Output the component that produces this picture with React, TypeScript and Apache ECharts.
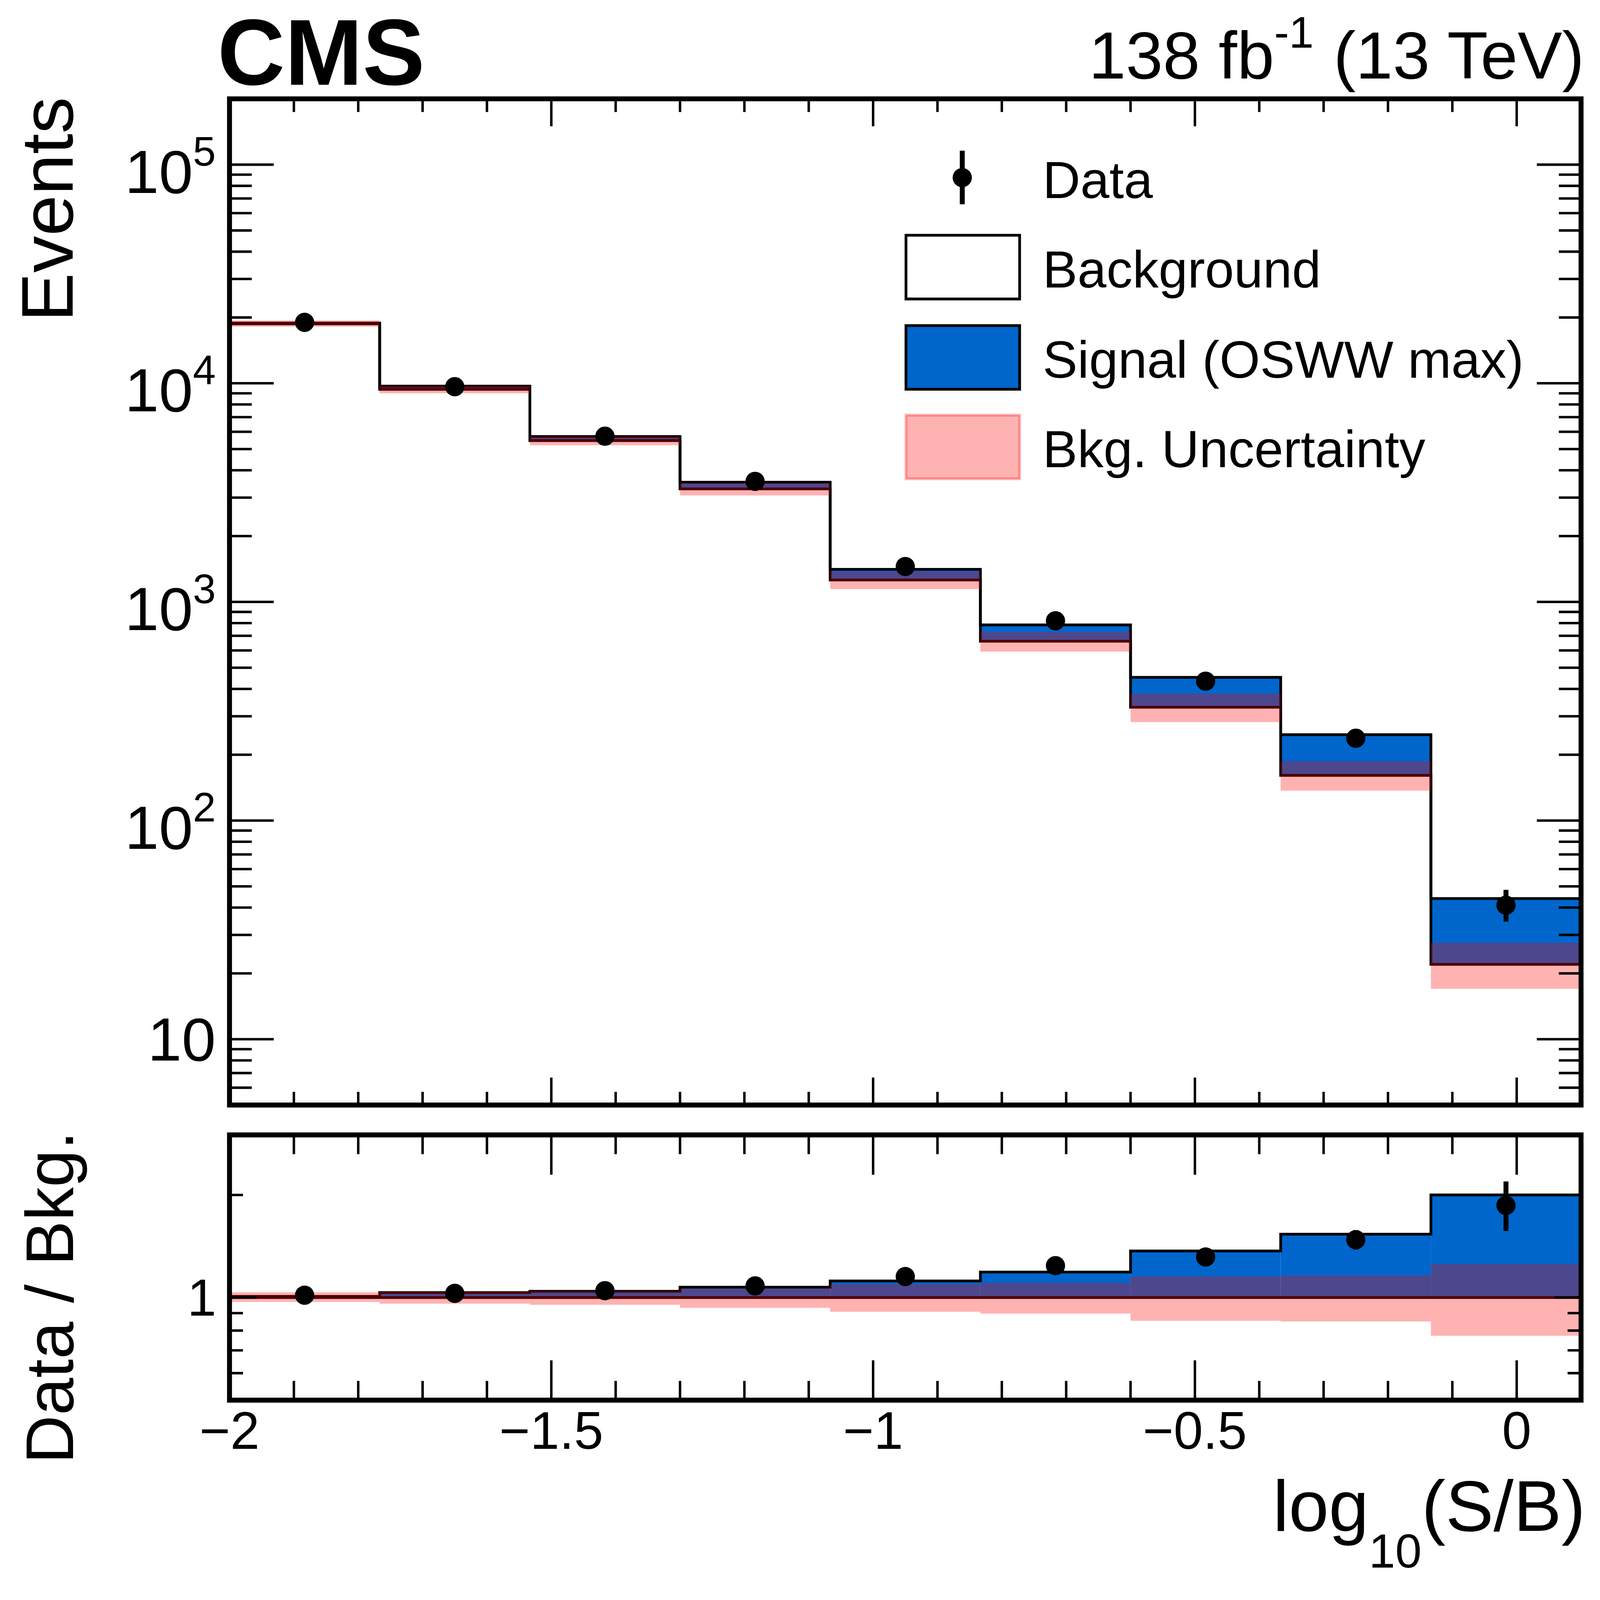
import * as echarts from 'echarts';
import { useEffect, useRef } from 'react';

// bin edges in log10(S/B)
const binEdges = [-2, -1.7667, -1.5333, -1.3, -1.0667, -0.8333, -0.6, -0.3667, -0.1333, 0.1];
// events per bin
const background = [18700, 9380, 5470, 3290, 1260, 661, 330, 161, 22.0];
const signal = [150, 320, 235, 237, 149, 124, 122, 86, 22];
const bkgUncDown = [18150, 9000, 5210, 3070, 1145, 593, 282, 137, 17.0];
const bkgUncUp = [19370, 9750, 5715, 3500, 1380, 730, 381, 187, 27.6];
const dataCounts = [19000, 9650, 5730, 3560, 1452, 820, 434, 238, 41];
const dataErrDown = [138, 98, 76, 60, 38, 29, 21, 15.4, 6.5];
const dataErrUp = [138, 98, 76, 60, 39, 29, 21, 16, 7.2];

const xTickValues = [-2, -1.5, -1, -0.5, 0];
const xTickLabels = ['−2', '−1.5', '−1', '−0.5', '0'];
const yTickValues = [10, 100, 1000, 10000, 100000];
const yTickExponents = ['', '2', '3', '4', '5'];
const ratioTickValues = [1];
const ratioTickLabels = ['1'];
const legendLabels = ['Data', 'Background', 'Signal (OSWW max)', 'Bkg. Uncertainty'];

const FONT = "'Liberation Sans', Arial, Helvetica, sans-serif";
const SIGNAL_COLOR = '#0066cc';
const UNC_COLOR = 'rgba(255, 0, 0, 0.3)';

// layout is designed on a 5828 x 5758 canvas and scaled to the viewport
const W = 5828;
const H = 5758;

const Y_MIN = 5;
const Y_MAX = 2e5;
const R_MIN = 0.5;
const R_MAX = 3;

const centers = background.map((_, i) => (binEdges[i] + binEdges[i + 1]) / 2);
const total = background.map((b, i) => b + signal[i]);
const rel = (arr: number[]) => arr.map((v, i) => v / background[i]);

const stepData = (values: number[]) =>
  binEdges.map((e, i) => [e, values[Math.min(i, values.length - 1)]]);
const boxData = (lo: number[], hi: number[]) =>
  lo.map((l, i) => [binEdges[i], binEdges[i + 1], l, hi[i]]);
const pointData = (vals: number[], down: number[], up: number[]) =>
  vals.map((v, i) => [centers[i], v, v - down[i], v + up[i]]);

// minor ticks
const xMinor: number[] = [];
for (let k = -19; k <= 0; k++) {
  const v = k / 10;
  if (!xTickValues.some((t) => Math.abs(t - v) < 1e-9)) xMinor.push(v);
}
const logMinor = (lo: number, hi: number, d0: number, d1: number) => {
  const out: number[] = [];
  for (let d = d0; d <= d1; d++) {
    for (let m = 2; m <= 9; m++) {
      const v = m * Math.pow(10, d);
      if (v > lo * 1.0001 && v < hi * 0.9999) out.push(v);
    }
  }
  return out;
};
const yMinor = logMinor(Y_MIN, Y_MAX, 0, 5);
const rMinor = logMinor(R_MIN, R_MAX, -1, 0);

function buildOption(k: number) {
  const px = (v: number) => v * k;

  const boxSeries = (gi: number, data: number[][], fill: string, z: number) => ({
    type: 'custom',
    xAxisIndex: gi,
    yAxisIndex: gi,
    z,
    silent: true,
    clip: true,
    encode: { x: [0, 1], y: [2, 3] },
    data,
    renderItem: (_p: any, api: any) => {
      const a = api.coord([api.value(0), api.value(3)]);
      const b = api.coord([api.value(1), api.value(2)]);
      return {
        type: 'rect',
        shape: { x: a[0], y: a[1], width: b[0] - a[0], height: b[1] - a[1] },
        style: { fill },
      };
    },
  });

  const stepSeries = (gi: number, values: number[]) => ({
    type: 'line',
    xAxisIndex: gi,
    yAxisIndex: gi,
    z: 2,
    silent: true,
    step: 'end',
    symbol: 'none',
    data: stepData(values),
    lineStyle: { color: '#000', width: px(10), join: 'miter', cap: 'square' },
  });

  const pointSeries = (gi: number, data: number[][]) => ({
    type: 'custom',
    xAxisIndex: gi,
    yAxisIndex: gi,
    z: 4,
    silent: true,
    clip: true,
    encode: { x: 0, y: [1, 2, 3] },
    data,
    renderItem: (_p: any, api: any) => {
      const c = api.coord([api.value(0), api.value(1)]);
      const lo = api.coord([api.value(0), api.value(2)]);
      const hi = api.coord([api.value(0), api.value(3)]);
      return {
        type: 'group',
        children: [
          { type: 'line', shape: { x1: c[0], y1: lo[1], x2: c[0], y2: hi[1] }, style: { stroke: '#000', lineWidth: px(18) } },
          { type: 'circle', shape: { cx: c[0], cy: c[1], r: px(35) }, style: { fill: '#000' } },
        ],
      };
    },
  });

  // ticks on all four sides: item = [x, y, kind(0 x / 1 y), length]
  const tickSeries = (gi: number, data: number[][]) => ({
    type: 'custom',
    xAxisIndex: gi,
    yAxisIndex: gi,
    z: 5,
    silent: true,
    encode: { x: 0, y: 1 },
    data,
    renderItem: (params: any, api: any) => {
      const cs = params.coordSys;
      const len = px(api.value(3));
      const p = api.coord([api.value(0), api.value(1)]);
      const st = { stroke: '#000', lineWidth: px(9) };
      if (api.value(2) === 0) {
        return {
          type: 'group',
          children: [
            { type: 'line', shape: { x1: p[0], y1: cs.y + cs.height, x2: p[0], y2: cs.y + cs.height - len }, style: st },
            { type: 'line', shape: { x1: p[0], y1: cs.y, x2: p[0], y2: cs.y + len }, style: st },
          ],
        };
      }
      return {
        type: 'group',
        children: [
          { type: 'line', shape: { x1: cs.x, y1: p[1], x2: cs.x + len, y2: p[1] }, style: st },
          { type: 'line', shape: { x1: cs.x + cs.width, y1: p[1], x2: cs.x + cs.width - len, y2: p[1] }, style: st },
        ],
      };
    },
  });

  const frameSeries = (gi: number, yRef: number) => ({
    type: 'custom',
    xAxisIndex: gi,
    yAxisIndex: gi,
    z: 6,
    silent: true,
    encode: { x: 0, y: 1 },
    data: [[binEdges[0], yRef]],
    renderItem: (params: any) => {
      const cs = params.coordSys;
      return {
        type: 'rect',
        shape: { x: cs.x, y: cs.y, width: cs.width, height: cs.height },
        style: { fill: 'none', stroke: '#000', lineWidth: px(18) },
      };
    },
  });

  const ticksFor = (
    yRef: number,
    yMajor: number[],
    yMinorList: number[],
    lens: { xM: number; xm: number; yM: number; ym: number }
  ) => [
    ...xTickValues.slice(1).map((v) => [v, yRef, 0, lens.xM]),
    ...xMinor.map((v) => [v, yRef, 0, lens.xm]),
    ...yMajor.map((v) => [binEdges[0], v, 1, lens.yM]),
    ...yMinorList.map((v) => [binEdges[0], v, 1, lens.ym]),
  ];

  const txt = (text: string, x: number, y: number, size: number, extra: any = {}) => ({
    type: 'text',
    x: px(x),
    y: px(y),
    z: 10,
    silent: true,
    rotation: extra.rotation || 0,
    style: {
      text,
      fontSize: px(size),
      fontFamily: FONT,
      fill: '#000',
      textAlign: 'left',
      align: 'left',
      textVerticalAlign: 'middle',
      verticalAlign: 'middle',
      ...(extra.style || {}),
    },
  });

  const tok = (size: number, padding?: number[]) => ({
    fontSize: px(size),
    lineHeight: px(size),
    fontFamily: FONT,
    color: '#000',
    ...(padding ? { padding: padding.map(px) } : {}),
  });

  const legendY = [647, 973, 1302, 1628];

  return {
    animation: false,
    backgroundColor: '#fff',
    grid: [
      { left: px(836), top: px(360), width: px(4923), height: px(3665), show: false, outerBoundsMode: 'none' },
      { left: px(836), top: px(4134), width: px(4923), height: px(966), show: false, outerBoundsMode: 'none' },
    ],
    xAxis: [
      { gridIndex: 0, type: 'value', min: -2, max: 0.1, show: false },
      {
        gridIndex: 1,
        type: 'value',
        min: -2,
        max: 0.1,
        interval: 0.5,
        axisLine: { show: false },
        axisTick: { show: false },
        splitLine: { show: false },
        axisLabel: {
          margin: px(15),
          fontSize: px(192),
          fontFamily: FONT,
          color: '#000',
          formatter: (v: number) => {
            const i = xTickValues.findIndex((t) => Math.abs(t - v) < 1e-6);
            return i < 0 ? '' : xTickLabels[i];
          },
        },
      },
    ],
    yAxis: [
      {
        gridIndex: 0,
        type: 'log',
        logBase: 10,
        min: Y_MIN,
        max: Y_MAX,
        axisLine: { show: false },
        axisTick: { show: false },
        splitLine: { show: false },
        axisLabel: {
          margin: px(50),
          rich: {
            base: tok(223, [50, 0, 0, 0]),
            sup: tok(150, [0, 0, 96, 0]),
            ten: tok(223),
          },
          formatter: (v: number) => {
            const i = yTickValues.findIndex((t) => Math.abs(v / t - 1) < 1e-6);
            if (i < 0) return '';
            return yTickExponents[i] ? `{base|10}{sup|${yTickExponents[i]}}` : '{ten|10}';
          },
        },
      },
      {
        gridIndex: 1,
        type: 'log',
        logBase: 10,
        min: R_MIN,
        max: R_MAX,
        axisLine: { show: false },
        axisTick: { show: false },
        splitLine: { show: false },
        axisLabel: {
          margin: px(48),
          fontSize: px(190),
          fontFamily: FONT,
          color: '#000',
          formatter: (v: number) => {
            const i = ratioTickValues.findIndex((t) => Math.abs(v / t - 1) < 1e-6);
            return i < 0 ? '' : ratioTickLabels[i];
          },
        },
      },
    ],
    series: [
      // main panel
      boxSeries(0, boxData(background, total), SIGNAL_COLOR, 1),
      stepSeries(0, background),
      stepSeries(0, total),
      boxSeries(0, boxData(bkgUncDown, bkgUncUp), UNC_COLOR, 3),
      pointSeries(0, pointData(dataCounts, dataErrDown, dataErrUp)),
      tickSeries(0, ticksFor(10, yTickValues, yMinor, { xM: 100, xm: 48, yM: 161, ym: 81 })),
      frameSeries(0, 10),
      // ratio panel
      boxSeries(1, boxData(rel(background), rel(total)), SIGNAL_COLOR, 1),
      stepSeries(1, rel(background)),
      stepSeries(1, rel(total)),
      boxSeries(1, boxData(rel(bkgUncDown), rel(bkgUncUp)), UNC_COLOR, 3),
      pointSeries(1, pointData(rel(dataCounts), rel(dataErrDown), rel(dataErrUp))),
      tickSeries(1, ticksFor(1, ratioTickValues, rMinor, { xM: 145, xm: 70, yM: 98, ym: 49 })),
      frameSeries(1, 1),
    ],
    graphic: [
      txt('CMS', 792, 191, 340, { style: { fontWeight: 'bold' } }),
      txt('', 5771, 202, 243, {
        style: {
          text: '{m|138 fb}{s|-1}{m| (13 TeV)}',
          textAlign: 'right',
          align: 'right',
          rich: { m: tok(243), s: tok(162, [0, 0, 169, 0]) },
        },
      }),
      txt('', 5775, 5485, 262, {
        style: {
          text: '{m|log}{s|10}{m|(S/B)}',
          textAlign: 'right',
          align: 'right',
          rich: { m: tok(262), s: tok(173, [330, 0, 0, 0]) },
        },
      }),
      txt('Events', 172, 353, 268, { rotation: Math.PI / 2, style: { textAlign: 'right', align: 'right' } }),
      txt('Data / Bkg.', 180, 4120, 245, { rotation: Math.PI / 2, style: { textAlign: 'right', align: 'right' } }),
      // legend
      {
        type: 'line',
        z: 10,
        silent: true,
        shape: { x1: px(3505), y1: px(legendY[0] - 98), x2: px(3505), y2: px(legendY[0] + 97) },
        style: { stroke: '#000', lineWidth: px(18) },
      },
      {
        type: 'circle',
        z: 10,
        silent: true,
        shape: { cx: px(3505), cy: px(legendY[0]), r: px(35) },
        style: { fill: '#000' },
      },
      ...[
        { fill: '#fff', stroke: '#000' },
        { fill: SIGNAL_COLOR, stroke: '#000' },
        { fill: UNC_COLOR, stroke: UNC_COLOR },
      ].map((s, i) => ({
        type: 'rect',
        z: 10,
        silent: true,
        shape: { x: px(3300), y: px(legendY[i + 1] - 116), width: px(414), height: px(232) },
        style: { ...s, lineWidth: px(10) },
      })),
      ...legendLabels.map((t, i) => txt(t, 3798, legendY[i] + 8, 190)),
    ],
  };
}

export default function App() {
  const container = useRef<HTMLDivElement | null>(null);
  const k = Math.min(window.innerWidth / W, window.innerHeight / H);

  useEffect(() => {
    document.body.style.margin = '0';
    document.body.style.overflow = 'hidden';
    if (!container.current) return;
    const chart = echarts.init(container.current, null, { renderer: 'svg' });
    chart.setOption(buildOption(k) as any);
    return () => {
      chart.dispose();
    };
  }, [k]);

  return <div ref={container} style={{ width: `${W * k}px`, height: `${H * k}px` }} />;
}
